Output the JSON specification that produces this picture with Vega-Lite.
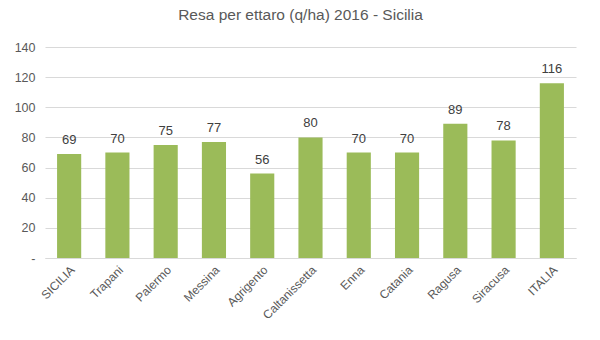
{
  "$schema": "https://vega.github.io/schema/vega-lite/v6.json",
  "width": 531,
  "height": 211,
  "autosize": {"type": "none"},
  "padding": {"left": 45, "top": 47, "right": 24, "bottom": 82},
  "background": "white",
  "title": {
    "text": "Resa per ettaro (q/ha) 2016 - Sicilia",
    "fontSize": 15.5,
    "font": "Liberation Sans",
    "fontWeight": "normal",
    "color": "#595959",
    "offset": 18,
    "dx": -10,
    "anchor": "middle"
  },
  "config": {
    "view": {"stroke": null},
    "font": "Liberation Sans"
  },
  "data": {
    "values": [
      {"provincia": "SICILIA", "resa": 69},
      {"provincia": "Trapani", "resa": 70},
      {"provincia": "Palermo", "resa": 75},
      {"provincia": "Messina", "resa": 77},
      {"provincia": "Agrigento", "resa": 56},
      {"provincia": "Caltanissetta", "resa": 80},
      {"provincia": "Enna", "resa": 70},
      {"provincia": "Catania", "resa": 70},
      {"provincia": "Ragusa", "resa": 89},
      {"provincia": "Siracusa", "resa": 78},
      {"provincia": "ITALIA", "resa": 116}
    ]
  },
  "encoding": {
    "x": {
      "field": "provincia",
      "type": "nominal",
      "sort": null,
      "scale": {"paddingInner": 0.5, "paddingOuter": 0.25},
      "axis": {
        "title": null,
        "labelAngle": -45,
        "labelFontSize": 12,
        "labelColor": "#595959",
        "ticks": false,
        "labelPadding": 6,
        "domainColor": "#d9d9d9",
        "domainWidth": 1
      }
    },
    "y": {
      "field": "resa",
      "type": "quantitative",
      "scale": {"domain": [0, 140]},
      "axis": {
        "title": null,
        "values": [0, 20, 40, 60, 80, 100, 120, 140],
        "labelExpr": "datum.value === 0 ? '-' : datum.label",
        "labelFontSize": 12.5,
        "labelColor": "#595959",
        "ticks": false,
        "domain": false,
        "labelPadding": 10,
        "gridColor": "#d9d9d9",
        "gridWidth": 1
      }
    }
  },
  "layer": [
    {"mark": {"type": "bar", "color": "#9bbb59"}},
    {
      "mark": {"type": "text", "baseline": "bottom", "dy": -7, "fontSize": 13, "color": "#404040"},
      "encoding": {"text": {"field": "resa", "type": "quantitative"}}
    }
  ]
}
